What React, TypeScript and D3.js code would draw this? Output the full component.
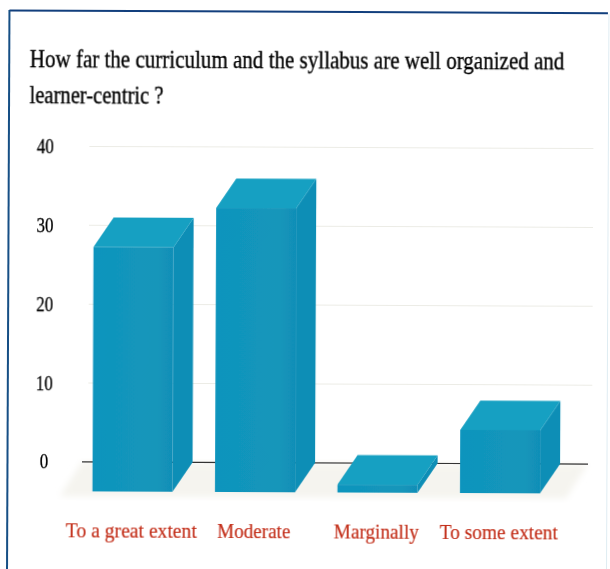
import React, { useRef, useEffect } from "react";
import * as d3 from "d3";

const titleLines = [
  "How far the curriculum and the syllabus are well organized and",
  "learner-centric ?",
];
const titleWidths = [535, 134];
const categories = ["To a great extent", "Moderate", "Marginally", "To some extent"];
const categoryWidths = [131, 73, 85, 118];
const values = [31, 36, 1, 8];
const yTicks = [0, 10, 20, 30, 40];

const width = 610;
const height = 569;
const depthX = 20;
const depthY = 29.5;
const serif = "'Liberation Serif', serif";

const App = () => {
  const ref = useRef<SVGSVGElement>(null);

  useEffect(() => {
    const root = d3.select(ref.current);
    root.selectAll("*").remove();

    const defs = root.append("defs");
    const soft = defs.append("filter").attr("id", "soft");
    soft.append("feGaussianBlur").attr("stdDeviation", 0.4);
    const floorBlur = defs.append("filter").attr("id", "floorBlur");
    floorBlur.append("feGaussianBlur").attr("stdDeviation", 3);
    const frontGrad = defs.append("linearGradient").attr("id", "front");
    frontGrad.append("stop").attr("offset", "0%").attr("stop-color", "#1094bd");
    frontGrad.append("stop").attr("offset", "80%").attr("stop-color", "#1396ba");
    frontGrad.append("stop").attr("offset", "100%").attr("stop-color", "#118eb7");

    // the scan is slightly turned
    const svg = root.append("g").attr("transform", "rotate(0.25)");

    const x = d3
      .scaleBand()
      .domain(categories)
      .range([94.6, 542.1])
      .paddingInner(0.347)
      .paddingOuter(0);
    const y = d3.scaleLinear().domain([0, 40]).range([461.5, 146]);

    // frame
    svg.append("line").attr("x1", 9.5).attr("x2", 608).attr("y1", 10.5).attr("y2", 10.5)
      .attr("stroke", "#123f7d").attr("stroke-width", 2);
    svg.append("line").attr("x1", 9.5).attr("x2", 9.5).attr("y1", 10).attr("y2", 575)
      .attr("stroke", "#164f85").attr("stroke-width", 2);
    svg.append("line").attr("x1", 609).attr("x2", 609).attr("y1", 11).attr("y2", 575)
      .attr("stroke", "#dfecf2").attr("stroke-width", 1);

    // title, squeezed to the narrow face of the original
    svg.append("g")
      .selectAll("text")
      .data(titleLines)
      .join("text")
      .attr("font-family", serif)
      .attr("font-size", 25)
      .attr("fill", "#000")
      .attr("stroke", "#000")
      .attr("stroke-width", 0.35)
      .attr("filter", "url(#soft)")
      .text((d) => d)
      .attr("transform", function (_, i) {
        const sx = titleWidths[i] / (this as SVGTextElement).getComputedTextLength();
        return `translate(30,${67 + i * 36}) scale(${sx},1)`;
      });

    // floor below the axis
    const x0 = 84;
    const x1 = 590;
    svg.append("path")
      .attr("d", `M${x0},${y(0)}L${x1},${y(0)}L${x1 - 22},${y(0) + depthY + 5}L${x0 - 22},${y(0) + depthY + 5}Z`)
      .attr("fill", "#f5f4ef")
      .attr("filter", "url(#floorBlur)");

    // grid lines
    svg.append("g")
      .selectAll("line")
      .data(yTicks.filter((d) => d > 0))
      .join("line")
      .attr("x1", 90)
      .attr("x2", 594)
      .attr("y1", (d) => y(d))
      .attr("y2", (d) => y(d))
      .attr("stroke", "#ecece6")
      .attr("stroke-width", 1);

    // zero line
    svg.append("line")
      .attr("x1", x0).attr("x2", x1).attr("y1", y(0)).attr("y2", y(0))
      .attr("stroke", "#333").attr("stroke-width", 1.2);

    // y labels
    svg.append("g")
      .selectAll("text")
      .data(yTicks)
      .join("text")
      .attr("x", 46)
      .attr("y", (d) => y(d) + 7)
      .attr("text-anchor", "middle")
      .attr("font-family", serif)
      .attr("font-size", 22)
      .attr("textLength", (d) => String(d).length * 8.5)
      .attr("lengthAdjust", "spacingAndGlyphs")
      .attr("fill", "#000")
      .attr("stroke", "#000")
      .attr("stroke-width", 0.3)
      .attr("filter", "url(#soft)")
      .text((d) => d);

    // bars
    const bars = svg.append("g")
      .selectAll("g")
      .data(categories)
      .join("g")
      .attr("filter", "url(#soft)");
    const bw = x.bandwidth();
    const base = y(0) + depthY;
    const topOf = (i: number) => y(values[i]) + depthY;

    bars.append("path")
      .attr("d", (d, i) => {
        const l = x(d)! + bw;
        return `M${l},${topOf(i)}L${l + depthX},${topOf(i) - depthY}L${l + depthX},${base - depthY}L${l},${base}Z`;
      })
      .attr("fill", "#108eb6");
    bars.append("path")
      .attr("d", (d, i) => {
        const l = x(d)!;
        return `M${l},${topOf(i)}L${l + depthX},${topOf(i) - depthY}L${l + bw + depthX},${topOf(i) - depthY}L${l + bw},${topOf(i)}Z`;
      })
      .attr("fill", "#17a0c2");
    bars.append("rect")
      .attr("x", (d) => x(d)!)
      .attr("y", (_, i) => topOf(i))
      .attr("width", bw)
      .attr("height", (_, i) => base - topOf(i))
      .attr("fill", "url(#front)");

    // category labels
    svg.append("g")
      .selectAll("text")
      .data(categories)
      .join("text")
      .attr("x", (d) => x(d)! + bw / 2 - 1)
      .attr("y", 537)
      .attr("text-anchor", "middle")
      .attr("font-family", serif)
      .attr("font-size", 21)
      .attr("textLength", (_, i) => categoryWidths[i])
      .attr("lengthAdjust", "spacingAndGlyphs")
      .attr("fill", "#c22d18")
      .attr("stroke", "#c22d18")
      .attr("stroke-width", 0.2)
      .attr("filter", "url(#soft)")
      .text((d) => d);
  }, []);

  return (
    <svg
      ref={ref}
      width={width}
      height={height}
      style={{ position: "absolute", left: 0, top: 0, background: "#fff" }}
    />
  );
};

export default App;
